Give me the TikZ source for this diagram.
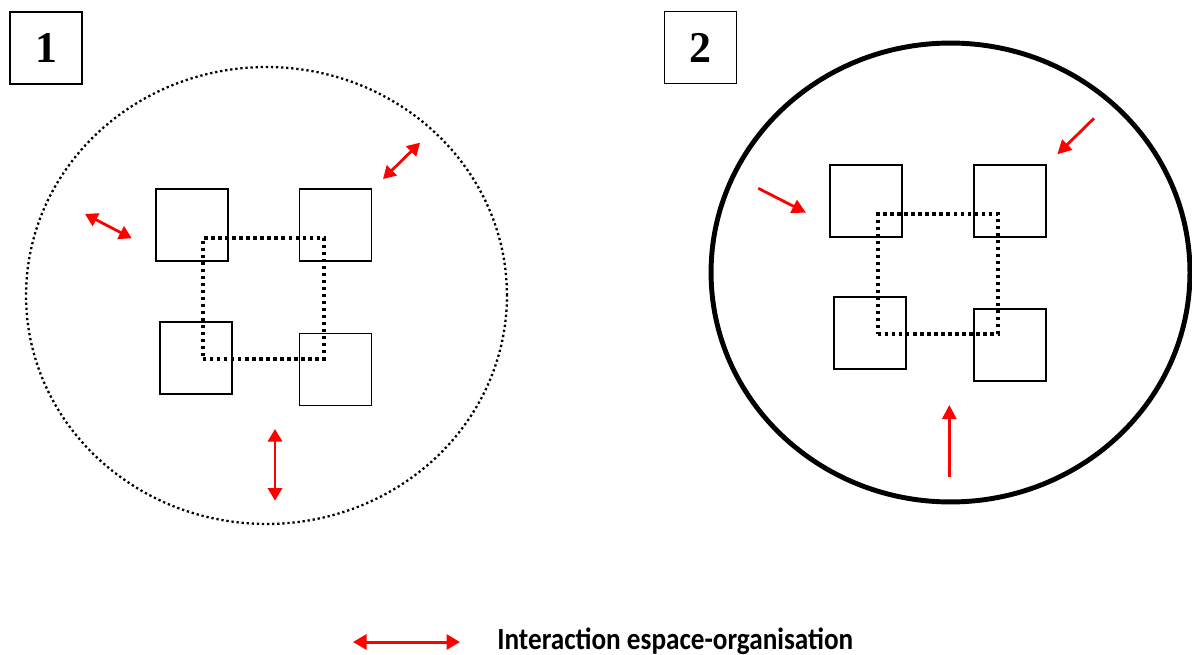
\documentclass[tikz,border=0pt]{standalone}
\usepackage{graphicx}
\usepackage{fontspec}
\setmainfont{Liberation Serif}
\newfontfamily\legendfont{Carlito}
\usetikzlibrary{positioning, arrows.meta}

\begin{document}
\begin{tikzpicture}[
    x=0.02cm, y=-0.02cm,
    unit/.style={rectangle, draw, line width=0.85pt, minimum size=1.44cm, inner sep=0pt},
    core/.style={rectangle, draw, line width=1.9pt, dash pattern=on 1.9pt off 2.1pt, inner sep=0pt},
    numbox/.style={rectangle, draw, line width=0.9pt, minimum size=1.44cm, inner sep=0pt, font=\bfseries\fontsize{25}{25}\selectfont},
    biarrow/.style={{Triangle[length=2.5mm, width=2.8mm]}-{Triangle[length=2.5mm, width=2.8mm]}, red, line width=1.6pt},
    inarrow/.style={-{Triangle[length=2.8mm, width=2.8mm]}, red, line width=1.6pt}
]
\useasboundingbox (0,0) rectangle (1192,655);

% Panel 1: open space
\node[numbox] (num1) at (46,48) {1};
\draw[line width=1.3pt, dash pattern=on 1.3pt off 1.6pt] (266.5,295.5) ellipse [x radius=4.81cm, y radius=4.57cm];
\node[core, minimum size=2.42cm] (core1) at (263.5,298.5) {};
\foreach \name/\x/\y in {tl/192/225, tr/335.7/225, bl/196/358, br/335.7/369.5} {
    \node[unit] (a\name) at (\x,\y) {};
}
\coordinate (aw1) at (85,214);   \coordinate (aw2) at (131.7,238.3);
\coordinate (an1) at (383,179);  \coordinate (an2) at (420,142.7);
\coordinate (as1) at (275,429);  \coordinate (as2) at (275,500.7);
\draw[biarrow] (aw1) -- (aw2);
\draw[biarrow] (an1) -- (an2);
\draw[biarrow] (as1) -- (as2);

% Panel 2: closed space
\node[numbox] (num2) at (700.5,47.5) {2};
\draw[line width=2.8pt] (950.5,272.5) ellipse [x radius=4.79cm, y radius=4.59cm];
\node[core, minimum size=2.40cm] (core2) at (938,274) {};
\foreach \name/\x/\y in {tl/866/201, tr/1010/201, bl/870/333, br/1010/345} {
    \node[unit] (b\name) at (\x,\y) {};
}
\coordinate (bw1) at (758.3,188.3);  \coordinate (bw2) at (806,212.7);
\coordinate (bn1) at (1094,118.3);   \coordinate (bn2) at (1057.3,154.3);
\coordinate (bs1) at (949.3,476.7);  \coordinate (bs2) at (949.3,405);
\draw[inarrow] (bw1) -- (bw2);
\draw[inarrow] (bn1) -- (bn2);
\draw[inarrow] (bs1) -- (bs2);

% Legend
\coordinate (lg1) at (353,642);
\coordinate (lg2) at (460,642);
\draw[{Triangle[length=2.7mm, width=3mm]}-{Triangle[length=2.7mm, width=3mm]}, red, line width=1.7pt] (lg1) -- (lg2);
\node[anchor=base west, inner sep=0pt, font=\legendfont\bfseries\fontsize{17.5}{17.5}\selectfont] (legend) at (497,649) {\scalebox{0.885}[1]{Interaction espace-organisation}};

\end{tikzpicture}
\end{document}
